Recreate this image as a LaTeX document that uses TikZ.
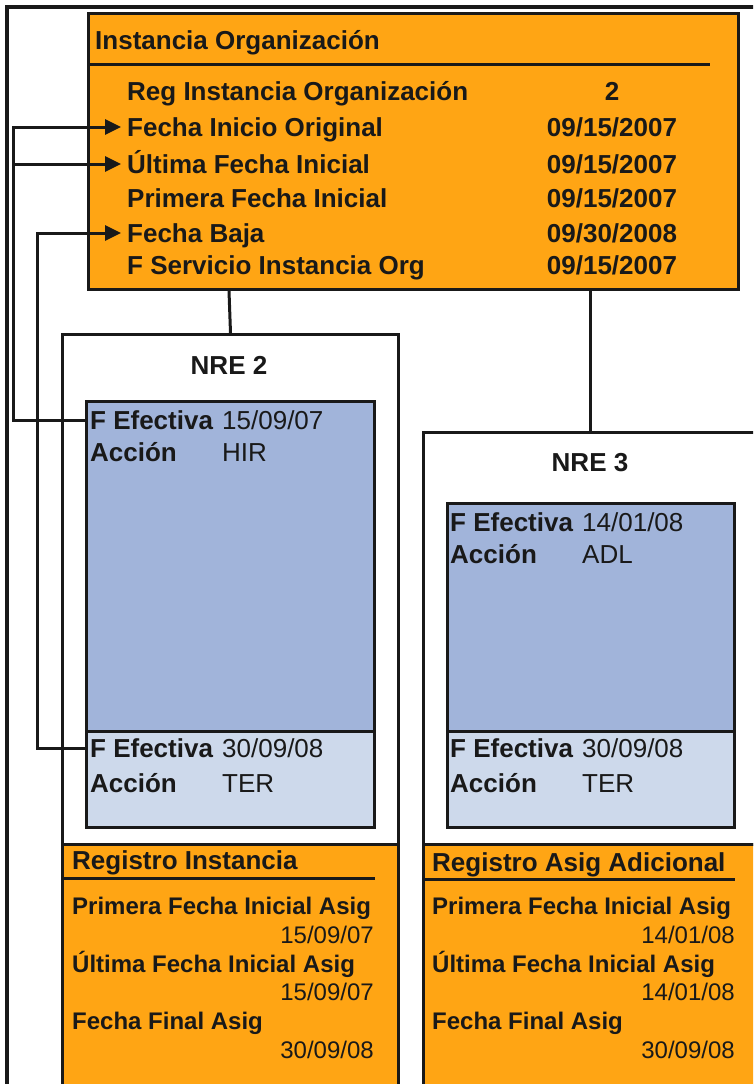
\documentclass[tikz,border=0pt]{standalone}
\usepackage{fontspec}
\setmainfont{Liberation Sans}
\usetikzlibrary{arrows.meta, positioning}
\definecolor{orgcolor}{RGB}{255,165,20}
\definecolor{effcolor}{RGB}{161,180,218}
\definecolor{endcolor}{RGB}{205,217,235}
\definecolor{inkcolor}{RGB}{25,25,25}

\begin{document}
\begin{tikzpicture}[x=1pt, y=-1pt,
    box/.style={rectangle, draw=inkcolor, line width=3pt, anchor=north west, inner sep=0pt},
    orgbox/.style={box, fill=orgcolor},
    nrebox/.style={box, fill=white},
    effbox/.style={box, fill=effcolor},
    endbox/.style={box, fill=endcolor},
    txt/.style={inner sep=0pt, text=inkcolor, text height=19pt, text depth=0pt},
    hdr/.style={txt, anchor=west, font=\fontsize{26}{30}\selectfont\bfseries},
    lab/.style={hdr},
    val/.style={txt, font=\fontsize{26}{30}\selectfont\bfseries},
    ttl/.style={val},
    blab/.style={txt, anchor=west, font=\fontsize{26}{30}\selectfont\bfseries},
    bval/.style={txt, anchor=west, font=\fontsize{26}{30}\selectfont},
    slab/.style={txt, anchor=west, text height=17.5pt, font=\fontsize{24}{28}\selectfont\bfseries},
    sval/.style={txt, anchor=east, text height=17.5pt, font=\fontsize{24}{28}\selectfont},
    rule/.style={draw=inkcolor, line width=3pt},
    conn/.style={draw=inkcolor, line width=3pt},
    arr/.style={conn, -{Triangle[length=16pt,width=15pt]}, shorten >=6pt},
]
    \useasboundingbox (0,0) rectangle (753,1084);
    \clip (0,0) rectangle (753,1084);
    % Frame
    \draw[conn, line width=3.5pt] (7,1100) -- (7,7) -- (770,7);

    % Instancia Organizacion
    \node[orgbox, minimum width=650pt, minimum height=276pt] (org) at (87,12) {};
    \node[hdr] (orgt) at (95,40) {Instancia Organización};
    \draw[rule] (87,64) -- (710,64);
    \foreach \nm/\lab/\val/\y in {
        reg/Reg Instancia Organización/2/91,
        fio/Fecha Inicio Original/{09/15/2007}/127,
        ufi/Última Fecha Inicial/{09/15/2007}/164,
        pfi/Primera Fecha Inicial/{09/15/2007}/198,
        fb/Fecha Baja/{09/30/2008}/233,
        fsi/F Servicio Instancia Org/{09/15/2007}/265} {
        \node[lab] (\nm) at (127,\y) {\lab};
        \node[val] (\nm v) at (612,\y) {\val};
    }

    % NRE 2
    \node[nrebox, minimum width=336pt, minimum height=510pt] (nre2) at (61,333) {};
    \node[ttl] (nre2t) at (229,365) {NRE 2};
    \node[effbox, minimum width=288pt, minimum height=330pt] (eff2) at (85,400) {};
    \node[endbox, minimum width=288pt, minimum height=96pt] (end2) at (85,730) {};
    \node[blab] (fe2a) at (90,420) {F Efectiva};
    \node[bval] (fe2av) at (222,420) {15/09/07};
    \node[blab] (ac2a) at (90,452) {Acción};
    \node[bval] (ac2av) at (222,452) {HIR};
    \node[blab] (fe2b) at (90,748) {F Efectiva};
    \node[bval] (fe2bv) at (222,748) {30/09/08};
    \node[blab] (ac2b) at (90,783) {Acción};
    \node[bval] (ac2bv) at (222,783) {TER};

    % NRE 3
    \node[nrebox, minimum width=360pt, minimum height=412pt] (nre3) at (422,431) {};
    \node[ttl] (nre3t) at (590,462) {NRE 3};
    \node[effbox, minimum width=287pt, minimum height=228pt] (eff3) at (446,502) {};
    \node[endbox, minimum width=287pt, minimum height=96pt] (end3) at (446,730) {};
    \node[blab] (fe3a) at (450,522) {F Efectiva};
    \node[bval] (fe3av) at (582,522) {14/01/08};
    \node[blab] (ac3a) at (450,554) {Acción};
    \node[bval] (ac3av) at (582,554) {ADL};
    \node[blab] (fe3b) at (450,748) {F Efectiva};
    \node[bval] (fe3bv) at (582,748) {30/09/08};
    \node[blab] (ac3b) at (450,783) {Acción};
    \node[bval] (ac3bv) at (582,783) {TER};

    % Registro Instancia
    \node[orgbox, minimum width=336pt, minimum height=260pt] (reg2) at (61,843) {};
    \node[hdr] (reg2t) at (72,860) {Registro Instancia};
    \draw[rule] (61,878) -- (375,878);
    \node[slab] (pf2) at (72,906) {Primera Fecha Inicial Asig};
    \node[sval] (pf2v) at (374,935) {15/09/07};
    \node[slab] (uf2) at (72,964) {Última Fecha Inicial Asig};
    \node[sval] (uf2v) at (374,992) {15/09/07};
    \node[slab] (ff2) at (72,1021) {Fecha Final Asig};
    \node[sval] (ff2v) at (374,1050) {30/09/08};

    % Registro Asig Adicional
    \node[orgbox, minimum width=360pt, minimum height=260pt] (reg3) at (422,843) {};
    \node[hdr] (reg3t) at (432,862) {Registro Asig Adicional};
    \draw[rule] (422,879) -- (735,879);
    \node[slab] (pf3) at (432,906) {Primera Fecha Inicial Asig};
    \node[sval] (pf3v) at (735,935) {14/01/08};
    \node[slab] (uf3) at (432,964) {Última Fecha Inicial Asig};
    \node[sval] (uf3v) at (735,992) {14/01/08};
    \node[slab] (ff3) at (432,1021) {Fecha Final Asig};
    \node[sval] (ff3v) at (735,1050) {30/09/08};

    % Links
    \draw[conn] (org.south -| nre2t) -- (nre2.north);
    \draw[conn] (org.south -| nre3t) -- (nre3t |- nre3.north);
    \coordinate (railA) at (13,0);
    \coordinate (railB) at (37,0);
    \draw[arr] (fe2a -| eff2.west) -- (fe2a -| railA) |- (fio.west);
    \draw[arr] (fio -| railA) |- (ufi.west);
    \draw[arr] (fe2b -| end2.west) -- (fe2b -| railB) |- (fb.west);
\end{tikzpicture}
\end{document}
